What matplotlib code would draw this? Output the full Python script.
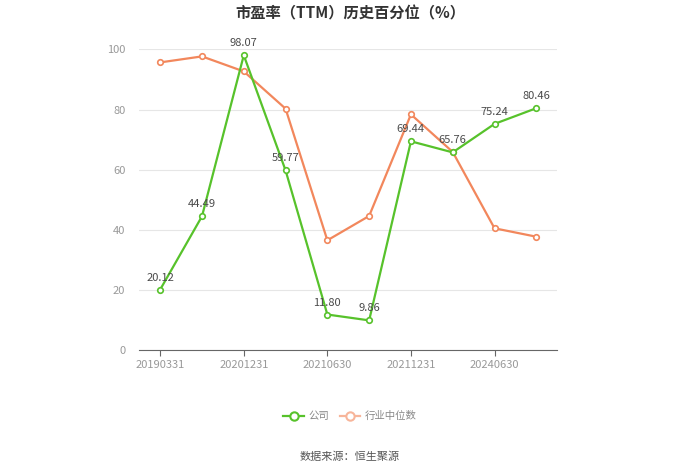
import matplotlib
matplotlib.use("Agg")
import matplotlib.pyplot as plt
from matplotlib.lines import Line2D

plt.rcParams['font.family'] = ['Noto Sans CJK SC', 'DejaVu Sans']

categories = ['20190331', '20191231', '20201231', '20210331', '20210630',
              '20210930', '20211231', '20220630', '20240630', '20241231']
tick_labels = ['20190331', '', '20201231', '', '20210630', '', '20211231', '', '20240630', '']
company = [20.12, 44.49, 98.07, 59.77, 11.80, 9.86, 69.44, 65.76, 75.24, 80.46]
industry = [95.7, 97.7, 92.7, 80.3, 36.5, 44.6, 78.4, 65.9, 40.5, 37.7]
title = '市盈率（TTM）历史百分位（%）'
series_names = ['公司', '行业中位数']
source = '数据来源：恒生聚源'

green = '#57c22b'
orange = '#f2875c'

fig = plt.figure(figsize=(7, 4.74), dpi=100)
ax = fig.add_axes([0.199, 0.2616, 0.597, 0.6340])

x = list(range(len(categories)))
ax.plot(x, industry, color=orange, lw=1.6, marker='o', ms=4,
        mfc='white', mec=orange, mew=1.2, zorder=3)
ax.plot(x, company, color=green, lw=1.6, marker='o', ms=4,
        mfc='white', mec=green, mew=1.2, zorder=4)

for xi, v in zip(x, company):
    ax.annotate(f'{v:.2f}', (xi, v), xytext=(0, 5), textcoords='offset points',
                ha='center', va='bottom', fontsize=8, color='#4a4a4a', zorder=5)

ax.set_xlim(-0.5, len(categories) - 0.5)
ax.set_ylim(0, 100)
ax.set_yticks([0, 20, 40, 60, 80, 100])
ax.set_xticks(x)
ax.set_xticklabels(tick_labels)
for i, t in enumerate(ax.xaxis.get_major_ticks()):
    if tick_labels[i] == '':
        t.tick1line.set_visible(False)

ax.grid(axis='y', color='#e6e6e6', lw=0.8)
ax.set_axisbelow(True)
for s in ['top', 'right', 'left']:
    ax.spines[s].set_visible(False)
ax.spines['bottom'].set_color('#666666')
ax.tick_params(axis='y', length=0, labelsize=8, labelcolor='#999999', pad=10)
ax.tick_params(axis='x', length=4, color='#666666', labelsize=8, labelcolor='#999999')

fig.text(0.5, 0.972, title, ha='center', va='center', fontsize=11,
         fontweight='bold', color='#333333')

handles = [
    Line2D([0], [0], color=green, lw=1.6, marker='o', ms=6, mfc='white', mec=green, mew=1.5),
    Line2D([0], [0], color='#f7b59a', lw=1.6, marker='o', ms=6, mfc='white', mec='#f7b59a', mew=1.5),
]
leg = fig.legend(handles, series_names, loc='center', bbox_to_anchor=(0.5, 0.122),
                 ncol=2, frameon=False, fontsize=7.5, handlelength=2.0,
                 columnspacing=1.0, handletextpad=0.4)
for t in leg.get_texts():
    t.set_color('#888888')

fig.text(0.5, 0.036, source, ha='center', va='center', fontsize=8, color='#555555')

fig.savefig('out.png', dpi=100, facecolor='white')
